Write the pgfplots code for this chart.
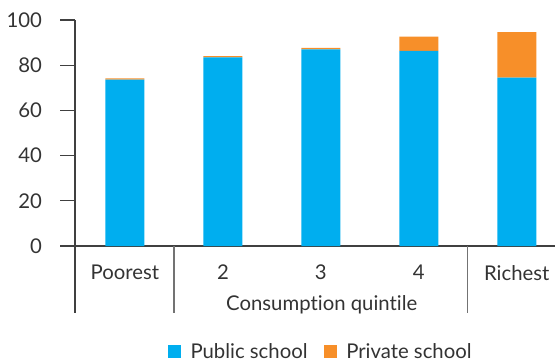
\documentclass[border=0pt]{standalone}
\usepackage{pgfplots}
\pgfplotsset{compat=1.18}
\usepackage{fontspec}
\setmainfont{Lato}[Ligatures=NoCommon]
\definecolor{pub}{HTML}{00AEEF}
\definecolor{priv}{HTML}{F78F29}
\definecolor{txt}{HTML}{333333}
\begin{document}
\begin{tikzpicture}
\begin{axis}[
  scale only axis,
  width=240bp, height=113bp,
  xmin=-0.51, xmax=4.39,
  ymin=0, ymax=100,
  ybar stacked,
  bar width=19.5bp,
  axis x line=bottom, axis y line=left,
  axis line style={-, draw=black!75, line width=0.6pt},
  clip=false,
  font=\fontsize{10.2}{12}\selectfont\color{txt},
  xtick={0,1,2,3,4},
  xticklabels={Poorest,2,3,4,Richest},
  major x tick style={draw=none},
  xticklabel style={yshift=1.5bp},
  ytick={0,20,40,60,80,100},
  tick align=outside,
  major tick length=7.5bp,
  ytick style={draw=black!75, line width=0.6pt},
  yticklabel style={xshift=-5.5bp},
  /pgf/number format/assume math mode=true,
  legend columns=2,
  legend style={draw=none, fill=none, at={(rel axis cs:0.514,-0.469)}, anchor=center,
    font=\fontsize{10.2}{12}\selectfont\color{txt},
    /tikz/every even column/.append style={column sep=6bp}},
  legend image code/.code={\fill[#1] (0cm,-0.105cm) rectangle (0.235cm,0.13cm); \path (0.33cm,0);},
]
\addplot[fill=pub, draw=none] coordinates {(0,73.6) (1,83.5) (2,87.0) (3,86.3) (4,74.5)};
\addplot[fill=priv, draw=none] coordinates {(0,0.6) (1,0.5) (2,0.7) (3,6.3) (4,20.1)};
\legend{Public school, Private school}
\draw[black!75, line width=0.6pt] (rel axis cs:0,0) -- (rel axis cs:0,-0.296);
\draw[black!55, line width=0.6pt] (axis cs:0.5,0) -- (axis cs:0.5,-29.6);
\draw[black!55, line width=0.6pt] (axis cs:3.5,0) -- (axis cs:3.5,-29.6);
\node[anchor=center] at (rel axis cs:0.514,-0.261) {Consumption quintile};
\coordinate (bl) at (rel axis cs:-0.15625,-0.5044);
\coordinate (tr) at (rel axis cs:1,1.0885);
\end{axis}
\pgfresetboundingbox
\path (bl) rectangle (tr);
\end{tikzpicture}
\end{document}
